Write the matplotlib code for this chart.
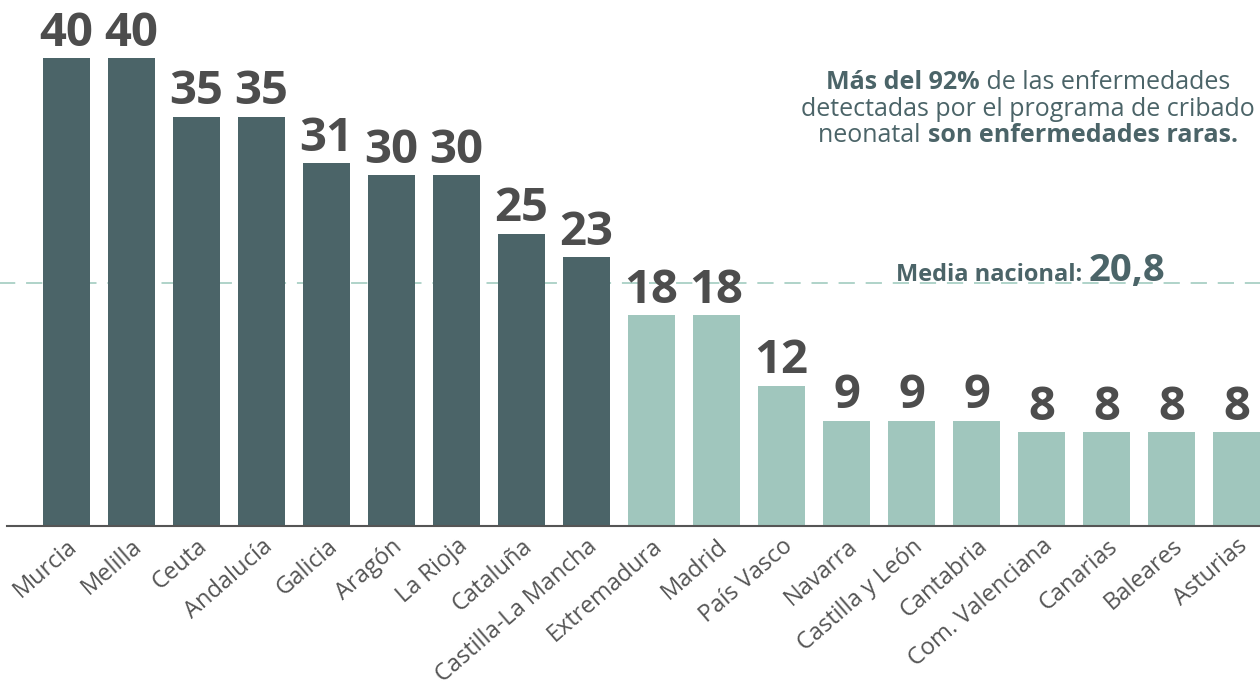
import numpy as np
import matplotlib
matplotlib.use("Agg")
from matplotlib import pyplot as plt
from matplotlib.offsetbox import TextArea, HPacker, VPacker, AnnotationBbox

# data
regions = ["Murcia", "Melilla", "Ceuta", "Andalucía", "Galicia", "Aragón",
           "La Rioja", "Cataluña", "Castilla-La Mancha", "Extremadura",
           "Madrid", "País Vasco", "Navarra", "Castilla y León", "Cantabria",
           "Com. Valenciana", "Canarias", "Baleares", "Asturias"]
values = [40, 40, 35, 35, 31, 30, 30, 25, 23, 18, 18, 12, 9, 9, 9, 8, 8, 8, 8]
media = 20.8

dark = "#4b6468"
light = "#a0c6bd"
dash_col = "#a9d0c5"
num_col = "#4d4d4d"
font = "Open Sans"

plt.rcParams['font.family'] = [font, 'DejaVu Sans']

fig = plt.figure(figsize=(12.6, 6.95), dpi=100)
ax = fig.add_axes([7/1260, 169/695, 1253/1260, 526/695])

x = np.arange(len(values))
colors = [dark if v > media else light for v in values]
ax.bar(x, values, width=0.72, color=colors, zorder=2)

for xi, v in zip(x, values):
    ax.annotate(str(v), (xi, v), xytext=(0, 1), textcoords="offset points",
                ha="center", va="bottom", fontsize=34, fontweight="bold",
                color=num_col, zorder=4)

ax.axhline(media, xmin=-0.01, xmax=1, color=dash_col, lw=1.3,
           dashes=(9, 6), zorder=1, clip_on=False)

ax.set_xlim(-0.915, 18.36)
ax.set_ylim(0, 44.96)
ax.set_yticks([])
ax.set_xticks(x)
ax.set_xticklabels(regions, rotation=41, ha="right", va="top",
                   rotation_mode="anchor", fontsize=17, color="#555555")
ax.tick_params(axis="x", length=0, pad=6)
for s in ["top", "left", "right"]:
    ax.spines[s].set_visible(False)
ax.spines["bottom"].set_color("#555555")
ax.spines["bottom"].set_linewidth(1.5)
ax.spines["bottom"].set_zorder(3)


def part(s, bold=False, size=18):
    return TextArea(s, textprops=dict(fontsize=size, color=dark,
                                      fontweight="bold" if bold else "normal",
                                      family=font))


lines = [
    HPacker(children=[part("Más del 92%", True), part(" de las enfermedades")],
            sep=0, pad=0, align="baseline"),
    HPacker(children=[part("detectadas por el programa de cribado")],
            sep=0, pad=0, align="baseline"),
    HPacker(children=[part("neonatal "), part("son enfermedades raras.", True)],
            sep=0, pad=0, align="baseline"),
]
note = VPacker(children=lines, sep=1, pad=0, align="center")
fig.add_artist(AnnotationBbox(note, (1028/1260, 1 - 109/695),
                              xycoords="figure fraction", frameon=False,
                              box_alignment=(0.5, 0.5)))

mbox = HPacker(children=[part("Media nacional: ", True, 17),
                         part("20,8", True, 27.5)],
               sep=0, pad=0, align="baseline")
fig.add_artist(AnnotationBbox(mbox, (1165/1260, 1 - 290/695),
                              xycoords="figure fraction", frameon=False,
                              box_alignment=(1, 0)))

fig.savefig("out.png", dpi=100)
